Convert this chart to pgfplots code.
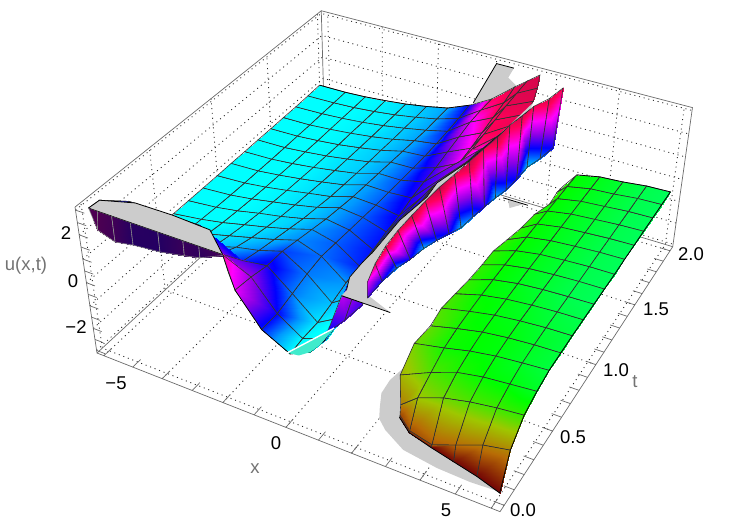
\documentclass[border=0pt]{standalone}
\usepackage{fontspec}
\setmainfont{Liberation Sans}
\usepackage{pgfplots}
\pgfplotsset{compat=1.18}
% perspective of the Mathematica box: x, t, u go through sv, rv, zv onto the page
\tikzset{declare function={
  sv(\x)=(\x+6.24)/12.48;
  rv(\t)=(\t+0.04)/2.08;
  zv(\u)=(\u+3.12)/6.24;
  wv(\x,\t,\u)=1-0.1178*sv(\x)+0.2176*rv(\t)-0.0708*zv(\u);
  px(\x,\t,\u)=(97+344.1*sv(\x)+298.7*rv(\t)-27.3*zv(\u))/wv(\x,\t,\u);
  py(\x,\t,\u)=520-(353+98.4*sv(\x)-180.1*rv(\t)-160.6*zv(\u))/wv(\x,\t,\u);
}}
\pgfplotsset{
  table/persp/.style={row sep=\\,
    x expr={px(\thisrow{x},\thisrow{t},\thisrow{u})},
    y expr={py(\thisrow{x},\thisrow{t},\thisrow{u})},
    z expr=0},
  colormap={rs}{rgb=(.45,.02,.02) rgb=(.72,.42,.02) rgb=(.62,.78,0) rgb=(0,1,0)
    rgb=(0,1,.5) rgb=(0,1,1) rgb=(0,.6,1) rgb=(0,0,1) rgb=(.55,0,.9) rgb=(1,0,1)
    rgb=(1,0,.35) rgb=(.7,.05,.25) rgb=(.3,0,.32) rgb=(.1,0,.4)},
  boxl/.style={forget plot,no marks,color=black!58,line width=.7pt},
  dots/.style={forget plot,no marks,color=black!85,line width=.85pt,dash pattern=on 1pt off 3.8pt},
  sheet/.style={forget plot,surf,shader=faceted interp,faceted color=black!80,line width=.6pt,
    z buffer=none,point meta=\thisrow{c}},
  cap/.style={forget plot,no marks,fill=black!20,draw=none},
  edge/.style={forget plot,no marks,color=black,line width=.8pt},
}
\definecolor{lab}{gray}{.45}
\begin{document}
\begin{tikzpicture}
\useasboundingbox (0,0) rectangle (734pt,520pt);
\begin{axis}[view={0}{90},hide axis,scale only axis,width=734pt,height=520pt,
  xmin=0,xmax=734,ymin=0,ymax=520,zmin=-1,zmax=1,clip=false,
  colormap name=rs,point meta min=0,point meta max=13]

% face grids
\pgfplotsinvokeforeach{-6,-4,-2,0,2,4,6}{
  \addplot3[dots] table[persp]{x t u\\ #1 -0.04 -3.12\\ #1 2.04 -3.12\\ #1 2.04 3.12\\};
}
\pgfplotsinvokeforeach{0,0.5,1,1.5,2}{
  \addplot3[dots] table[persp]{x t u\\ 6.24 #1 -3.12\\ -6.24 #1 -3.12\\ -6.24 #1 3.12\\};
}
\pgfplotsinvokeforeach{-3,-2,-1,0,1,2,3}{
  \addplot3[dots] table[persp]{x t u\\ -6.24 -0.04 #1\\ -6.24 2.04 #1\\ 6.24 2.04 #1\\};
}
% box
\addplot3[boxl] table[persp]{x t u\\ -6.24 -0.04 3.12\\ -6.24 2.04 3.12\\ 6.24 2.04 3.12\\ 6.24 2.04 -3.12\\ 6.24 -0.04 -3.12\\ -6.24 -0.04 -3.12\\ -6.24 -0.04 3.12\\};
\addplot3[boxl] table[persp]{x t u\\ -6.24 -0.04 -3.12\\ -6.24 2.04 -3.12\\ 6.24 2.04 -3.12\\};
\addplot3[boxl] table[persp]{x t u\\ -6.24 2.04 3.12\\ -6.24 2.04 -3.12\\};
% ticks
\pgfplotsinvokeforeach{-6,...,6}{
  \addplot3[boxl] table[persp]{x t u\\ #1 -0.04 -3.12\\ #1 0.02 -3.12\\};
}
\pgfplotsinvokeforeach{0,0.1,...,2.01}{
  \addplot3[boxl] table[persp]{x t u\\ 6.24 #1 -3.12\\ 5.95 #1 -3.12\\};
}
\pgfplotsinvokeforeach{-3,-2.5,...,3}{
  \addplot3[boxl] table[persp]{x t u\\ -6.24 -0.04 #1\\ -5.95 -0.04 #1\\};
}

% clipped bottom, seen behind the green sheet
\addplot3[cap] table[persp]{x t u\\ 1.72 0.60 -3\\ 1.57 0.435 -3\\ 1.62 0.34 -3\\ 1.85 0.256 -3\\ 2.05 0.19 -3\\ 2.4 0.14 -3\\ 3.16 0.07 -3\\ 4.23 0.043 -3\\ 5.18 0.037 -3\\ 6 0.046 -3\\ 5.2 0.1 -3\\ 3.5 0.3 -3\\ 2.5 0.5 -3\\};
\addplot3[cap] table[persp]{x t u\\ 0.75 2 -3\\ 1.3 2 -3\\ 1.0 1.93 -3\\};
\addplot3[edge] table[persp]{x t u\\ 0.58 2 -3\\ 1.45 2 -3\\};
% clipped top behind the far end of the ridge
\addplot3[cap] table[persp]{x t u\\ 0.5 1.6 3\\ 0.11 2 3\\ 0.69 2 3\\ 0.78 1.9 3\\ 1.25 1.84 3\\ 1.56 2 3\\ 1.5 1.6 3\\};
\addplot3[edge] table[persp]{x t u\\ 0.5 1.6 3\\ 0.11 2 3\\ 0.69 2 3\\};

% main sheet, t=2 first
\addplot3[sheet,mesh/rows=17,mesh/cols=12] table[persp]{x t u c\\
-6.24 2 -0.17 5\\ -5.25 2 -0.16 5\\ -4.5 2 -0.11 5\\ -3.75 2 -0.02 5.1\\ -3 2 0.09 5.3\\ -2.25 2 0.25 5.6\\ -1.5 2 0.45 5.9\\ -0.75 2 0.85 7\\ 0 2 1.4 10\\ 0.75 2 2.2 10.3\\ 1.15 2 2.6 10.5\\ 1.55 2 3 10.5\\
-6.24 1.875 -0.2 5\\ -5.25 1.875 -0.17 5\\ -4.5 1.875 -0.12 5\\ -3.75 1.875 -0.03 5.1\\ -3 1.875 0.09 5.2\\ -2.25 1.875 0.25 5.5\\ -1.5 1.875 0.45 5.9\\ -0.75 1.875 0.75 6.9\\ 0 1.875 1.4 9.5\\ 0.75 1.875 2 10.2\\ 1.15 1.875 2.55 10.4\\ 1.8 1.875 3 10.5\\
-6.24 1.75 -0.22 5\\ -5.25 1.75 -0.18 5\\ -4.5 1.75 -0.12 5\\ -3.75 1.75 -0.03 5.1\\ -3 1.75 0.1 5.2\\ -2.25 1.75 0.26 5.5\\ -1.5 1.75 0.45 5.9\\ -0.75 1.75 0.68 6.8\\ 0 1.75 1.37 8.8\\ 0.75 1.75 1.85 10\\ 1.15 1.75 2.5 10.3\\ 2 1.75 3 10.4\\
-6.24 1.625 -0.22 5\\ -5.25 1.625 -0.2 5\\ -4.5 1.625 -0.12 5\\ -3.75 1.625 -0.02 5.1\\ -3 1.625 0.11 5.3\\ -2.25 1.625 0.27 5.5\\ -1.5 1.625 0.5 5.9\\ -0.75 1.625 0.64 6.6\\ 0 1.625 1.23 8.3\\ 0.75 1.625 1.7 9.6\\ 1.15 1.625 2.4 10\\ 2.1 1.625 3 10.3\\
-6.24 1.5 -0.23 5\\ -5.25 1.5 -0.2 5\\ -4.5 1.5 -0.12 5\\ -3.75 1.5 -0.02 5.1\\ -3 1.5 0.13 5.3\\ -2.25 1.5 0.3 5.5\\ -1.5 1.5 0.55 5.9\\ -0.75 1.5 0.62 6.6\\ 0 1.5 1.1 7.8\\ 0.75 1.5 1.55 9.2\\ 1.15 1.5 2.3 10\\ 2 1.5 3 10.2\\
-6.24 1.375 -0.23 5\\ -5.25 1.375 -0.2 5\\ -4.5 1.375 -0.11 5\\ -3.75 1.375 0 5.1\\ -3 1.375 0.15 5.3\\ -2.25 1.375 0.32 5.5\\ -1.5 1.375 0.6 5.9\\ -0.75 1.375 0.63 6.5\\ 0 1.375 0.95 7.5\\ 0.75 1.375 1.45 9\\ 1.15 1.375 2.2 9.6\\ 1.89 1.375 3 9.8\\
-6.24 1.25 -0.24 5\\ -5.25 1.25 -0.2 5\\ -4.5 1.25 -0.1 5\\ -3.75 1.25 0.02 5.1\\ -3 1.25 0.18 5.3\\ -2.25 1.25 0.35 5.5\\ -1.5 1.25 0.65 5.9\\ -0.75 1.25 0.65 6.5\\ 0 1.25 0.88 7.3\\ 1.75 1.25 2.95 8.5\\ 1.78 1.25 2.98 9\\ 1.8 1.25 3 9.5\\
-6.24 1.125 -0.24 5\\ -5.25 1.125 -0.19 5\\ -4.5 1.125 -0.08 5\\ -3.75 1.125 0.06 5.1\\ -3 1.125 0.22 5.3\\ -2.25 1.125 0.4 5.5\\ -1.5 1.125 0.7 5.9\\ -0.75 1.125 0.68 6.4\\ 0 1.125 0.75 7.2\\ 1.69 1.125 2.95 8.2\\ 1.72 1.125 2.98 8.6\\ 1.74 1.125 3 9\\
-6.24 1 -0.25 5\\ -5.25 1 -0.18 5\\ -4.5 1 -0.06 5\\ -3.75 1 0.1 5.1\\ -3 1 0.28 5.3\\ -2.25 1 0.45 5.5\\ -1.5 1 0.75 5.9\\ -0.75 1 0.7 6.4\\ 0 1 0.55 7.1\\ 1.55 1 2.95 7.8\\ 1.58 1 2.98 8\\ 1.6 1 3 8.2\\
-6.24 0.875 -0.25 5\\ -5.25 0.875 -0.16 5\\ -4.5 0.875 -0.02 5\\ -3.75 0.875 0.16 5.1\\ -3 0.875 0.34 5.3\\ -2.25 0.875 0.55 5.5\\ -1.5 0.875 0.85 5.9\\ -0.75 0.875 0.75 6.4\\ 0 0.875 0.45 6.9\\ 1.42 0.875 2.95 7.4\\ 1.45 0.875 2.98 7.6\\ 1.47 0.875 3 7.8\\
-6.24 0.75 -0.25 5\\ -5.25 0.75 -0.13 5\\ -4.5 0.75 0.03 5\\ -3.75 0.75 0.24 5.1\\ -3 0.75 0.42 5.3\\ -2.25 0.75 0.65 5.5\\ -1.5 0.75 0.95 5.9\\ -0.75 0.75 0.8 6.4\\ 0 0.75 0.28 6.9\\ 1.48 0.75 2.95 7.2\\ 1.51 0.75 2.98 7.4\\ 1.53 0.75 3 7.5\\
-6.24 0.625 -0.25 5\\ -5.25 0.625 -0.08 5\\ -4.5 0.625 0.1 5\\ -3.75 0.625 0.33 5.1\\ -3 0.625 0.55 5.3\\ -2.25 0.625 0.8 5.6\\ -1.5 0.625 1.1 6\\ -0.75 0.625 0.86 6.4\\ 0 0.625 0.2 6.8\\ 1.4 0.625 2.95 7\\ 1.43 0.625 2.98 7\\ 1.45 0.625 3 7\\
-6.24 0.5 -0.25 5\\ -5.25 0.5 -0.02 5.1\\ -4.5 0.5 0.2 5.2\\ -3.75 0.5 0.45 5.3\\ -3 0.5 0.7 5.5\\ -2.25 0.5 0.95 5.8\\ -1.5 0.5 1.25 6.1\\ -0.75 0.5 0.91 6.3\\ 0 0.5 0.13 6\\ 1.37 0.5 2.95 6.8\\ 1.4 0.5 2.98 6.8\\ 1.42 0.5 3 6.8\\
-6.24 0.375 -0.1 5.4\\ -5.25 0.375 0.05 5.4\\ -4.5 0.375 0.3 5.5\\ -3.75 0.375 0.6 5.6\\ -3 0.375 0.9 5.8\\ -2.25 0.375 1.1 6.2\\ -1.5 0.375 1.4 6.6\\ -0.75 0.375 0.8 6.2\\ 0 0.375 -0.07 5.6\\ 0.75 0.375 0.6 5.4\\ 1.15 0.375 1.7 6\\ 1.47 0.375 3 6.7\\
-6.24 0.25 1.3 6\\ -5.25 0.25 1.3 6\\ -4.5 0.25 1.3 6\\ -3.75 0.25 1.3 6\\ -3 0.25 1.25 6.2\\ -2.25 0.25 1.29 6.8\\ -1.5 0.25 1.43 7.2\\ -0.75 0.25 0.62 6.2\\ 0 0.25 -0.23 5.2\\ 0.75 0.25 0.35 5\\ 1.15 0.25 1.6 5.8\\ 1.45 0.25 3 6.8\\
-5.97 0.07 3 7\\ -5.25 0.125 3 7\\ -4.5 0.125 3 7\\ -3.75 0.125 3 7\\ -3 0.125 3 7\\ -2.25 0.1 2.3 8\\ -1.5 0.125 1.6 8.1\\ -0.75 0.125 0.45 7\\ 0 0.125 -0.22 5\\ 0.75 0.125 0.15 5\\ 1.15 0.125 1.5 5.8\\ 1.47 0.125 3 7\\
-6 0 3 7\\ -5.25 0 3 7\\ -4.5 0 3 7\\ -3.75 0 3 7\\ -3 0 3 7\\ -1.79 0 3 9.5\\ -1.49 0 1.72 8.8\\ -0.75 0 0.47 6.8\\ 0.09 0 -0.12 5\\ 0.7 0 0.27 5\\ 1.15 0 1 6.2\\ 1.8 0 3 7.5\\
};
\addplot3[edge,line width=.6pt] table[persp]{x t u\\ -1.79 0 3\\ -1.66 0 2.37\\ -1.49 0 1.72\\ -0.93 0 0.78\\ -0.75 0 0.47\\ 0.09 0 -0.12\\ 0.7 0 0.27\\ 1.15 0 1\\ 1.61 0 2.41\\ 1.8 0 3\\};
\addplot3[edge,line width=.7pt] table[persp]{x t u\\ -6.24 2 -0.17\\ -5.25 2 -0.16\\ -4.5 2 -0.11\\ -3.75 2 -0.02\\ -3 2 0.09\\ -2.25 2 0.25\\ -1.5 2 0.45\\ -0.75 2 0.85\\};

% wall under the left cap
\addplot3[sheet,faceted color=black!45,mesh/rows=2,mesh/cols=8] table[persp]{x t u c\\
-6 0 3 12\\ -5.8 0 2.2 12\\ -5.25 0 1.95 12.3\\ -4.65 0 2.09 12.8\\ -3.78 0 2.2 12.8\\ -3 0 2.4 12.4\\ -2.51 0 2.54 12.6\\ -1.8 0 2.95 12.2\\
-6 0 3 12\\ -5.7 0 3 12\\ -5.25 0 3 12.2\\ -4.65 0 3 12.7\\ -3.78 0 3 12.8\\ -3 0 3 12.4\\ -2.51 0 3 12.5\\ -1.8 0 3 12.2\\
};
% left cap
\addplot3[cap] table[persp]{x t u\\ -6 0 3\\ -5.97 0.07 3\\ -5.07 0.128 3\\ -3.9 0.131 3\\ -2.66 0.119 3\\ -1.79 0 3\\};
\addplot3[edge] table[persp]{x t u\\ -6 0 3\\ -5.97 0.07 3\\ -5.07 0.128 3\\ -3.9 0.131 3\\ -2.66 0.119 3\\ -1.79 0 3\\};
\addplot3[edge,line width=.5pt] table[persp]{x t u\\ -6 0 3\\ -1.79 0 3\\};

% wall under the middle cap
\addplot3[sheet,mesh/rows=2,mesh/cols=3] table[persp]{x t u c\\
1.22 0 1.32 7\\ 1.74 0 2.09 7.6\\ 2.25 0 2.95 7.4\\
1.66 0 3 8.4\\ 1.95 0 3 8\\ 2.25 0 3 8\\
};
% narrow cap along the singular line
\addplot3[cap] table[persp]{x t u\\ 1.66 0.04 3\\ 1.47 0.12 3\\ 1.45 0.23 3\\ 1.47 0.31 3\\ 1.41 0.57 3\\ 1.54 0.78 3\\ 1.47 0.9 3\\ 1.74 1.11 3\\ 1.89 1.37 3\\ 2.11 1.67 3\\ 2.03 1.74 3\\ 1.95 1.5 3\\ 1.7 1 3\\ 1.59 0.75 3\\ 1.58 0.5 3\\ 1.63 0.375 3\\ 1.75 0.25 3\\ 1.92 0.14 3\\ 2.29 0.048 3\\ 3 0 3\\ 1.66 0 3\\};
\addplot3[edge] table[persp]{x t u\\ 1.66 0 3\\ 3 0 3\\};
\addplot3[edge,line width=.6pt] table[persp]{x t u\\ 1.66 0.04 3\\ 1.47 0.12 3\\ 1.45 0.23 3\\ 1.47 0.31 3\\ 1.41 0.57 3\\ 1.54 0.78 3\\ 1.47 0.9 3\\ 1.74 1.11 3\\ 1.89 1.37 3\\ 2.11 1.67 3\\};
% floor of the dip under the white streak
\addplot3[forget plot,no marks,fill={rgb,1:red,.25;green,.92;blue,.8},draw=none] table[persp]{x t u\\ 0 0 -0.12\\ 0.655 0.21 0.08\\ 1 0 0.72\\ 0.7 0 0.27\\ 0.35 0 -0.05\\};
\addplot3[forget plot,no marks,color=white,line width=1.4pt] table[persp]{x t u\\ 0 0 -0.12\\ 0.655 0.21 0.08\\};

% ridge wall beyond the singular line
\addplot3[sheet,mesh/rows=2,mesh/cols=16] table[persp]{x t u c\\
1.95 0.125 2.4 7.5\\ 1.95 0.25 2.4 7\\ 1.95 0.375 2.28 6\\ 1.95 0.5 2.01 7\\ 1.95 0.625 1.83 5.8\\ 1.95 0.75 1.55 6.6\\ 1.95 0.875 1.23 7\\ 1.95 1 0.88 5.8\\ 1.95 1.125 0.76 6.3\\ 1.95 1.25 0.61 7.2\\ 1.95 1.375 0.42 5.8\\ 1.95 1.5 0.2 6.4\\ 1.95 1.625 0.13 7\\ 1.95 1.75 0.1 5.6\\ 2.05 1.875 0 6.2\\ 2.15 2 0 7\\
1.95 0.125 3 8.8\\ 1.75 0.25 3 10\\ 1.63 0.375 3 10.3\\ 1.58 0.5 3 10.2\\ 1.58 0.625 3 10.6\\ 1.59 0.75 3 10.2\\ 1.62 0.875 3 10.8\\ 1.7 1 3 10.2\\ 1.77 1.125 3 10.7\\ 1.84 1.25 3 10.1\\ 1.92 1.375 3 10.6\\ 1.95 1.5 3 10.2\\ 2 1.625 2.9 10.5\\ 2.03 1.75 2.8 10.1\\ 2.2 1.875 2.7 10.4\\ 2.32 2 2.71 10\\
};

% green sheet: fold side first, t=2 first, last row lies on the u=-3 contour
\addplot3[sheet,mesh/rows=17,mesh/cols=6] table[persp]{x t u c\\
2.6 2 -1.59 2.7\\ 3 2 -0.92 3\\ 3.75 2 -0.71 3.2\\ 4.5 2 -0.64 3.4\\ 5.25 2 -0.52 3.6\\ 6 2 -0.48 3.7\\
2.7 1.875 -1.27 2.7\\ 3 1.875 -0.9 3\\ 3.75 1.875 -0.7 3.2\\ 4.5 1.875 -0.63 3.4\\ 5.25 1.875 -0.52 3.6\\ 6 1.875 -0.48 3.7\\
2.75 1.75 -1.26 2.7\\ 3 1.75 -0.89 3\\ 3.75 1.75 -0.7 3.2\\ 4.5 1.75 -0.62 3.4\\ 5.25 1.75 -0.53 3.6\\ 6 1.75 -0.5 3.7\\
2.6 1.625 -1.2 2.7\\ 3 1.625 -0.88 3\\ 3.75 1.625 -0.7 3.2\\ 4.5 1.625 -0.62 3.4\\ 5.25 1.625 -0.54 3.6\\ 6 1.625 -0.5 3.7\\
2.5 1.5 -1.28 2.7\\ 3 1.5 -0.88 3\\ 3.75 1.5 -0.7 3.2\\ 4.5 1.5 -0.62 3.4\\ 5.25 1.5 -0.55 3.6\\ 6 1.5 -0.52 3.7\\
2.4 1.375 -1.25 2.7\\ 3 1.375 -0.87 3\\ 3.75 1.375 -0.7 3.2\\ 4.5 1.375 -0.62 3.4\\ 5.25 1.375 -0.55 3.6\\ 6 1.375 -0.52 3.7\\
2.3 1.25 -1.2 2.7\\ 3 1.25 -0.87 3\\ 3.75 1.25 -0.7 3.2\\ 4.5 1.25 -0.62 3.4\\ 5.25 1.25 -0.56 3.6\\ 6 1.25 -0.55 3.7\\
2.3 1.125 -1.2 2.7\\ 3 1.125 -0.88 3\\ 3.75 1.125 -0.7 3.2\\ 4.5 1.125 -0.62 3.4\\ 5.25 1.125 -0.57 3.6\\ 6 1.125 -0.55 3.7\\
2.25 1 -1.26 2.7\\ 3 1 -0.9 3\\ 3.75 1 -0.72 3.2\\ 4.5 1 -0.63 3.4\\ 5.25 1 -0.58 3.6\\ 6 1 -0.55 3.7\\
2.2 0.875 -1.25 2.6\\ 3 0.875 -0.93 3\\ 3.75 0.875 -0.75 3.1\\ 4.5 0.875 -0.65 3.3\\ 5.25 0.875 -0.58 3.5\\ 6 0.875 -0.55 3.6\\
2.15 0.75 -1.25 2.5\\ 3 0.75 -0.98 2.9\\ 3.75 0.75 -0.78 3.1\\ 4.5 0.75 -0.66 3.2\\ 5.25 0.75 -0.58 3.4\\ 6 0.75 -0.55 3.5\\
2.2 0.625 -1.33 2.4\\ 3 0.625 -1.05 2.9\\ 3.75 0.625 -0.83 3\\ 4.5 0.625 -0.7 3.1\\ 5.25 0.625 -0.62 3.3\\ 6 0.625 -0.58 3.5\\
2.1 0.5 -1.46 2.3\\ 3 0.5 -1.2 2.9\\ 3.75 0.5 -0.95 3\\ 4.5 0.5 -0.78 3.1\\ 5.25 0.5 -0.68 3.3\\ 6 0.5 -0.6 3.5\\
2.08 0.375 -2.15 1.8\\ 3 0.375 -1.55 2.5\\ 3.75 0.375 -1.15 2.8\\ 4.5 0.375 -0.95 3\\ 5.25 0.375 -0.85 3.1\\ 6 0.375 -0.75 3.3\\
2.5 0.25 -2.5 1.2\\ 3 0.25 -1.92 2\\ 3.75 0.25 -1.51 2.3\\ 4.5 0.25 -1.27 2.5\\ 5.25 0.25 -1.11 2.6\\ 6 0.25 -1 2.7\\
2.5 0.245 -2.95 0.6\\ 3 0.18 -2.95 0.7\\ 3.75 0.15 -2.95 0.8\\ 4.5 0.125 -2.36 1\\ 5.25 0.125 -1.92 1.2\\ 6 0.125 -1.7 1.3\\
2.5 0.24 -3 0\\ 3 0.175 -3 0\\ 3.75 0.14 -3 0\\ 4.5 0.11 -3 0\\ 5.25 0.08 -3 0\\ 6 0.04 -3 0\\
};
\addplot3[edge,line width=.7pt] table[persp]{x t u\\ 3 2 -0.92\\ 3.75 2 -0.71\\ 4.5 2 -0.64\\ 5.25 2 -0.52\\ 6 2 -0.48\\ 6 1.75 -0.5\\ 6 1.5 -0.52\\ 6 1.25 -0.55\\ 6 1 -0.55\\ 6 0.75 -0.55\\ 6 0.5 -0.6\\ 6 0.375 -0.75\\ 6 0.25 -1\\ 6 0.125 -1.7\\ 6 0.04 -3\\ 5.25 0.08 -3\\ 4.5 0.11 -3\\ 3.75 0.14 -3\\ 3 0.175 -3\\ 2.5 0.24 -3\\};

% labels
\begin{scope}[every node/.style={font=\fontsize{18.5}{22}\selectfont,inner sep=0pt}]
\node at (axis cs:66,287,0) {2};
\node at (axis cs:73,239,0) {0};
\node at (axis cs:76,193,0) {−2};
\node at (axis cs:116,137,0) {−5};
\node at (axis cs:276,77,0) {0};
\node at (axis cs:446,10,0) {5};
\node at (axis cs:523,10,0) {0.0};
\node at (axis cs:573,83,0) {0.5};
\node at (axis cs:616,150,0) {1.0};
\node at (axis cs:656,211,0) {1.5};
\node at (axis cs:691,266,0) {2.0};
\node[text=lab] at (axis cs:26,254,0) {u(x,t)};
\node[text=lab] at (axis cs:255,51,0) {x};
\node[text=lab] at (axis cs:635,138,0) {t};
\end{scope}
\end{axis}
\end{tikzpicture}
\end{document}
